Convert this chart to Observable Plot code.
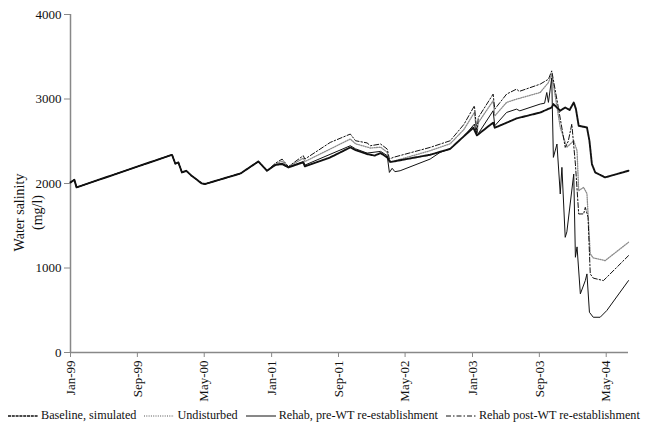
<!DOCTYPE html>
<html>
<head>
<meta charset="utf-8">
<script src="https://cdn.jsdelivr.net/npm/d3@7"></script>
<script src="https://cdn.jsdelivr.net/npm/@observablehq/plot@0.6"></script>
<style>
  html, body { margin: 0; padding: 0; background: white; }
  #chart { width: 650px; font-family: "Liberation Serif", "Times New Roman", serif; }
  .legend { display: flex; flex-wrap: nowrap; justify-content: flex-start; align-items: center; font-size: 12.2px; color: #111; margin-top: 6px; padding-left: 8px; white-space: nowrap; width: 650px; box-sizing: border-box; }
  .legend .item { display: flex; align-items: center; margin-right: 8px; flex-shrink: 0; white-space: nowrap; }
  .legend svg { margin-right: 3px; flex-shrink: 0; }
</style>
</head>
<body>
<div id="chart"></div>
<script>
// Shared early segment (all scenarios coincide)
const common = [
  ["1999-01-01", 2013], ["1999-01-15", 2045], ["1999-01-23", 1954],
  ["2000-01-05", 2340], ["2000-01-17", 2234], ["2000-01-28", 2250],
  ["2000-02-10", 2131], ["2000-02-26", 2150], ["2000-03-16", 2092],
  ["2000-04-22", 2001], ["2000-05-04", 1994], ["2000-09-10", 2119],
  ["2000-11-14", 2261], ["2000-12-15", 2151]
];

const baseline = [
  ["2001-01-15", 2220], ["2001-02-08", 2230], ["2001-03-03", 2190],
  ["2001-04-26", 2250], ["2001-05-02", 2202], ["2001-08-02", 2309],
  ["2001-10-14", 2427], ["2001-11-02", 2395], ["2001-12-14", 2349],
  ["2002-01-10", 2330], ["2002-02-01", 2360], ["2002-02-25", 2309],
  ["2002-03-05", 2270], ["2002-03-10", 2255], ["2002-07-31", 2340],
  ["2002-10-12", 2410], ["2002-12-01", 2560], ["2003-01-04", 2660],
  ["2003-01-17", 2570], ["2003-03-17", 2720], ["2003-03-23", 2660],
  ["2003-06-10", 2770], ["2003-09-04", 2840], ["2003-10-16", 2900],
  ["2003-10-22", 2940], ["2003-11-16", 2861], ["2003-12-04", 2900],
  ["2003-12-20", 2870], ["2004-01-04", 2959], ["2004-01-12", 2880],
  ["2004-01-22", 2683], ["2004-02-21", 2663], ["2004-03-01", 2506],
  ["2004-03-10", 2230], ["2004-03-22", 2131], ["2004-04-27", 2072],
  ["2004-07-21", 2151]
];

const undisturbed = [
  ["2001-01-15", 2230], ["2001-02-08", 2265], ["2001-03-03", 2195],
  ["2001-04-26", 2300], ["2001-05-02", 2260], ["2001-10-14", 2526],
  ["2001-11-02", 2470], ["2001-12-26", 2420], ["2002-02-01", 2430],
  ["2002-02-25", 2370], ["2002-03-05", 2250], ["2002-07-31", 2388],
  ["2002-10-12", 2470], ["2002-12-01", 2640], ["2003-01-08", 2841],
  ["2003-01-17", 2580], ["2003-01-22", 2720], ["2003-03-17", 2979],
  ["2003-03-23", 2800], ["2003-05-05", 2960], ["2003-06-10", 2998],
  ["2003-09-04", 3077], ["2003-10-04", 3195], ["2003-10-16", 3294],
  ["2003-11-16", 2663], ["2003-12-10", 2430], ["2004-01-04", 2506],
  ["2004-01-16", 2388], ["2004-01-22", 1915], ["2004-02-09", 1954],
  ["2004-02-21", 1880], ["2004-03-04", 1167], ["2004-03-15", 1120],
  ["2004-04-27", 1087], ["2004-07-21", 1304]
];

const rehabPre = [
  ["2001-01-15", 2220], ["2001-02-08", 2240], ["2001-03-03", 2195],
  ["2001-04-26", 2260], ["2001-05-02", 2218], ["2001-10-14", 2447],
  ["2001-11-02", 2410], ["2001-12-14", 2360], ["2002-02-01", 2380],
  ["2002-02-25", 2330], ["2002-03-05", 2131], ["2002-03-15", 2180],
  ["2002-03-25", 2140], ["2002-04-13", 2151], ["2002-07-31", 2289],
  ["2002-09-06", 2370], ["2002-10-12", 2408], ["2002-12-01", 2560],
  ["2003-01-08", 2703], ["2003-01-17", 2565], ["2003-03-17", 2861],
  ["2003-03-23", 2683], ["2003-05-05", 2841], ["2003-06-10", 2880],
  ["2003-06-22", 2860], ["2003-09-04", 2940], ["2003-09-20", 2950],
  ["2003-09-28", 3077], ["2003-10-04", 2960], ["2003-10-16", 3250],
  ["2003-10-22", 2309], ["2003-11-04", 2467], ["2003-11-16", 1876],
  ["2003-11-22", 2191], ["2003-12-04", 1363], ["2003-12-10", 1428],
  ["2004-01-04", 2112], ["2004-01-10", 1127], ["2004-01-16", 1250],
  ["2004-01-28", 694], ["2004-02-15", 851], ["2004-02-21", 930],
  ["2004-03-01", 476], ["2004-03-15", 417], ["2004-04-09", 417],
  ["2004-05-03", 496], ["2004-07-21", 851]
];

const rehabPost = [
  ["2001-01-15", 2240], ["2001-02-08", 2289], ["2001-03-03", 2200],
  ["2001-04-26", 2329], ["2001-05-02", 2289], ["2001-08-02", 2486],
  ["2001-10-14", 2585], ["2001-11-02", 2506], ["2001-12-14", 2480],
  ["2001-12-26", 2447], ["2002-02-01", 2467], ["2002-02-25", 2408],
  ["2002-03-05", 2289], ["2002-03-20", 2310], ["2002-07-31", 2427],
  ["2002-10-12", 2506], ["2002-12-01", 2700], ["2003-01-08", 2920],
  ["2003-01-17", 2600], ["2003-01-22", 2780], ["2003-03-17", 3058],
  ["2003-03-23", 2880], ["2003-05-05", 3058], ["2003-06-10", 3117],
  ["2003-06-20", 3090], ["2003-09-04", 3176], ["2003-10-04", 3234],
  ["2003-10-16", 3333], ["2003-11-09", 2900], ["2003-12-04", 2427],
  ["2003-12-15", 2500], ["2003-12-28", 2703], ["2004-01-10", 2230],
  ["2004-01-22", 1639], ["2004-02-09", 1640], ["2004-02-15", 1718],
  ["2004-02-25", 1600], ["2004-03-04", 930], ["2004-03-15", 880],
  ["2004-04-21", 851], ["2004-07-21", 1146]
];

const seriesNames = ["Baseline, simulated", "Undisturbed", "Rehab, pre-WT re-establishment", "Rehab post-WT re-establishment"];
const xTicks = ["1999-01-01", "1999-09-01", "2000-05-01", "2001-01-01", "2001-09-01", "2002-05-01", "2003-01-01", "2003-09-01", "2004-05-01"];
const yTicks = [0, 1000, 2000, 3000, 4000];
const xDomain = ["1999-01-01", "2004-07-21"];

const styles = {
  "Baseline, simulated": {stroke: "#111", strokeWidth: 1.9, strokeDasharray: "3,0.8"},
  "Undisturbed": {stroke: "#8c8c8c", strokeWidth: 1.3, strokeDasharray: "1,1.3"},
  "Rehab, pre-WT re-establishment": {stroke: "#111", strokeWidth: 1, strokeDasharray: null},
  "Rehab post-WT re-establishment": {stroke: "#111", strokeWidth: 1, strokeDasharray: "5,2,1.5,2"}
};

const parse = s => new Date(s + "T00:00:00Z");
const toRows = (arr, name) => common.concat(arr).map(([d, v]) => ({date: parse(d), value: v, series: name}));
const data = {
  "Baseline, simulated": toRows(baseline, seriesNames[0]),
  "Undisturbed": toRows(undisturbed, seriesNames[1]),
  "Rehab, pre-WT re-establishment": toRows(rehabPre, seriesNames[2]),
  "Rehab post-WT re-establishment": toRows(rehabPost, seriesNames[3])
};
const drawOrder = [seriesNames[1], seriesNames[3], seriesNames[2], seriesNames[0]];
const fmt = d3.utcFormat("%b-%y");

const chart = Plot.plot({
  width: 650, height: 402,
  marginLeft: 70, marginRight: 22, marginTop: 14, marginBottom: 50,
  style: {fontFamily: "'Liberation Serif', 'Times New Roman', serif", fontSize: "13px", color: "#111", background: "white"},
  x: {type: "utc", domain: xDomain.map(parse)},
  y: {domain: [0, 4000]},
  marks: [
    Plot.axisY({ticks: yTicks, tickFormat: d => String(d), tickSize: 6, tickPadding: 3, stroke: "#888", label: null, fontSize: 13}),
    Plot.axisX({ticks: xTicks.map(parse), tickFormat: fmt, tickRotate: -90, tickSize: 5, tickPadding: 3, stroke: "#888", label: null, fontSize: 13}),
    Plot.ruleY([0], {stroke: "#888", strokeWidth: 1.5}),
    Plot.ruleX([parse(xDomain[0])], {stroke: "#888", strokeWidth: 1.5}),
    ...drawOrder.map(name => Plot.line(data[name], {x: "date", y: "value", ...styles[name], strokeLinejoin: "round"})),
    Plot.text(["Water salinity\n(mg/l)"], {frameAnchor: "left", dx: -43, dy: 29, rotate: -90, lineHeight: 1.3, fontSize: 14, textAnchor: "middle"})
  ]
});
document.getElementById("chart").appendChild(chart);

const legend = document.createElement("div");
legend.className = "legend";
for (const name of seriesNames) {
  const s = styles[name];
  const item = document.createElement("div");
  item.className = "item";
  item.innerHTML = `<svg width="30" height="8"><line x1="0" y1="4" x2="30" y2="4" stroke="${s.stroke}" stroke-width="${Math.min(s.strokeWidth, 1.4)}" ${s.strokeDasharray ? `stroke-dasharray="${s.strokeDasharray}"` : ""}/></svg><span>${name}</span>`;
  legend.appendChild(item);
}
document.getElementById("chart").appendChild(legend);
</script>
</body>
</html>
